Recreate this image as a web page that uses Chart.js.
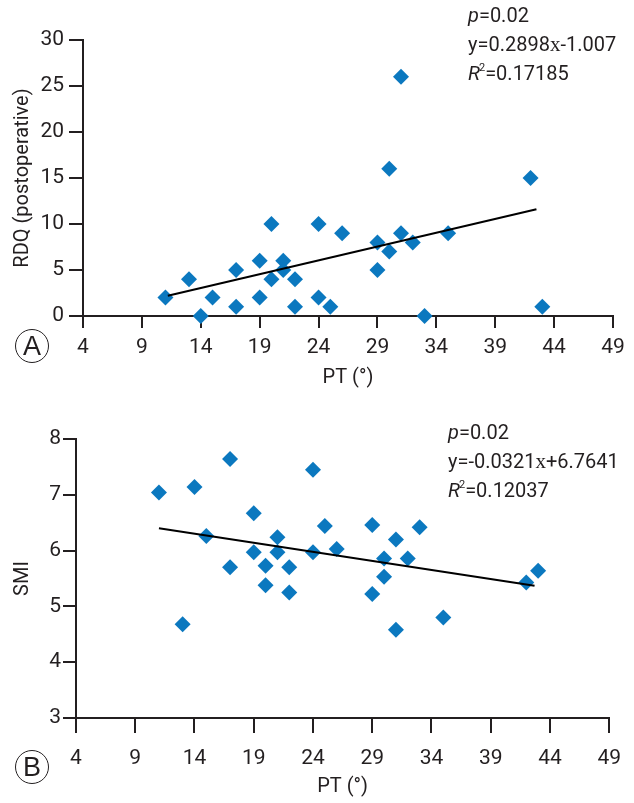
<!DOCTYPE html>
<html><head><meta charset="utf-8">
<script src="https://cdn.jsdelivr.net/npm/chart.js@4"></script>
<style>
html,body{margin:0;padding:0;background:#fff;}
body{width:634px;height:803px;position:relative;overflow:hidden;font-family:Roboto,sans-serif;color:#231f20;}
.box{position:absolute;left:0;width:634px;}
.ann{position:absolute;font-size:20px;line-height:29px;white-space:nowrap;}
.ann i{font-style:italic}
.ann sup{font-size:11px;vertical-align:9px;line-height:0;margin-left:-1px}
.xs{font-family:'Liberation Serif',serif;font-size:21px}
.lbl{position:absolute;width:32px;height:32px;border:1.3px solid #231f20;border-radius:50%;font-family:'Liberation Sans',sans-serif;font-size:27px;line-height:33px;text-align:center;}
</style></head>
<body>
<div class="box" style="top:0;height:395px"><canvas id="cA" width="634" height="395"></canvas></div>
<div class="box" style="top:400px;height:403px"><canvas id="cB" width="634" height="403"></canvas></div>
<div class="ann" style="left:468px;top:1px"><i>p</i>=0.02<br>y=0.2898<span class="xs">x</span>-1.007<br><i>R</i><sup>2</sup>=0.17185</div>
<div class="ann" style="left:448px;top:418px"><i>p</i>=0.02<br>y=-0.0321<span class="xs">x</span>+6.7641<br><i>R</i><sup>2</sup>=0.12037</div>
<div class="lbl" style="left:15px;top:329px">A</div>
<div class="lbl" style="left:15px;top:750px">B</div>
<script>
// ---- data ----
const ptA = [11,13,14,15,17,17,19,19,20,20,21,21,22,22,24,24,25,26,29,29,30,30,31,31,32,33,35,42,43];
const rdq = [2,4,0,2,5,1,6,2,10,4,6,5,4,1,10,2,1,9,8,5,16,7,26,9,8,0,9,15,1];
const ptB = [11,13,14,15,17,17,19,19,20,20,21,21,22,22,24,24,25,26,29,29,30,30,31,31,32,33,35,42,43];
const smi = [7.04,4.68,7.14,6.26,7.64,5.70,6.67,5.97,5.73,5.38,6.24,5.97,5.70,5.25,7.45,5.97,6.44,6.03,6.46,5.22,5.86,5.53,6.20,4.58,5.86,6.42,4.80,5.43,5.64];
const trendAx = [11.2, 42.5];
const trendAy = [2.2, 11.6];
const trendBx = [11, 42.7];
const trendBy = [6.40, 5.37];
const xTicks = [4, 49, 5];      // min, max, step
const yTicksA = [0, 30, 5];
const yTicksB = [3, 8, 1];
const xTitle = 'PT (°)';
const yTitleA = 'RDQ (postoperative)';
const yTitleB = 'SMI';

const FONT = "Roboto,sans-serif";
const INK = '#231f20';
const BLUE = '#0b78bf';

function pairs(xs, ys){ return xs.map((x,i)=>({x:x, y:ys[i]})); }

function make(id, xs, ys, tx, ty, yt, ytitle, g){
  new Chart(document.getElementById(id), {
    data: {
      datasets: [
        {type:'line', data:pairs(tx,ty), borderColor:'#000', borderWidth:2, pointRadius:0, fill:false, order:0, clip:false},
        {type:'scatter', data:pairs(xs,ys), pointStyle:'rectRot', pointRadius:8, pointHoverRadius:8,
         backgroundColor:BLUE, borderWidth:0, order:1, clip:false}
      ]
    },
    options: {
      responsive:false, animation:false, events:[],
      layout:{padding:{left:0, top:g.top, right:g.right, bottom:0}},
      plugins:{legend:{display:false}, tooltip:{enabled:false}},
      scales:{
        x:{type:'linear', position:'bottom', min:xTicks[0], max:xTicks[1],
           ticks:{stepSize:xTicks[2], color:INK, font:{family:FONT, size:21}, padding:g.xpad, maxRotation:0, autoSkip:false},
           grid:{drawOnChartArea:false, drawTicks:true, tickLength:g.xtl, color:INK, lineWidth:2},
           border:{display:true, color:INK, width:2},
           title:{display:true, text:xTitle, color:INK, font:{family:FONT, size:20}, padding:{top:0,bottom:g.xtp}},
           afterFit:s=>{s.height=g.xh;}},
        y:{type:'linear', position:'left', min:yt[0], max:yt[1],
           ticks:{stepSize:yt[2], color:INK, font:{family:FONT, size:21}, padding:g.ypad},
           grid:{drawOnChartArea:false, drawTicks:true, tickLength:g.ytl, color:INK, lineWidth:2},
           border:{display:true, color:INK, width:2},
           title:{display:true, text:ytitle, color:INK, font:{family:FONT, size:20}, padding:{top:11,bottom:0}},
           afterFit:s=>{s.width=g.yw;}}
      }
    }
  });
}

make('cA', ptA, rdq, trendAx, trendAy, yTicksA, yTitleA,
     {top:40, right:21, xh:79, yw:83, xpad:7, xtl:12, ytl:14, ypad:5, xtp:5});
make('cB', ptB, smi, trendBx, trendBy, yTicksB, yTitleB,
     {top:39, right:22, xh:85, yw:76, xpad:13, xtl:15, ytl:13, ypad:2, xtp:4});
</script>
</body></html>
